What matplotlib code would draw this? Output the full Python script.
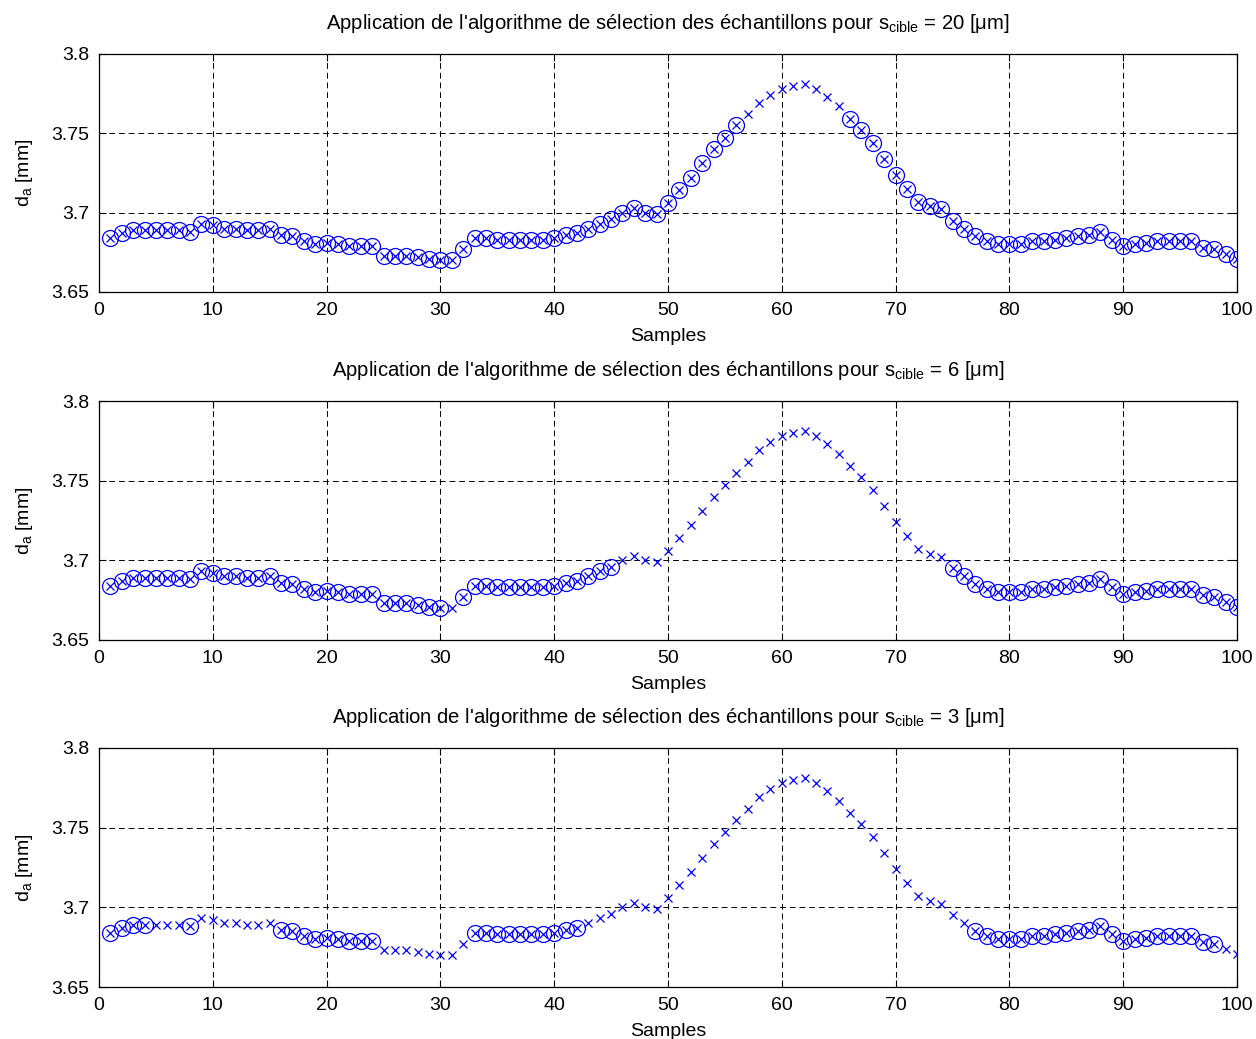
import matplotlib
matplotlib.use("Agg")
import matplotlib.pyplot as plt
import numpy as np

plt.rcParams['font.family'] = ['Liberation Sans', 'DejaVu Sans']
plt.rcParams['mathtext.fontset'] = 'custom'
plt.rcParams['mathtext.rm'] = 'Liberation Sans'
plt.rcParams['mathtext.it'] = 'Liberation Sans:italic'
plt.rcParams['mathtext.bf'] = 'Liberation Sans:bold'

samples = list(range(1, 101))
values = [
    3.684, 3.687, 3.689, 3.689, 3.689, 3.689, 3.689, 3.688, 3.693, 3.692,
    3.690, 3.690, 3.689, 3.689, 3.690, 3.686, 3.685, 3.682, 3.680, 3.681,
    3.680, 3.679, 3.679, 3.679, 3.673, 3.673, 3.673, 3.672, 3.671, 3.670,
    3.670, 3.677, 3.684, 3.684, 3.683, 3.683, 3.683, 3.683, 3.683, 3.684,
    3.686, 3.687, 3.690, 3.693, 3.696, 3.700, 3.703, 3.700, 3.699, 3.706,
    3.714, 3.722, 3.731, 3.740, 3.747, 3.755, 3.762, 3.769, 3.774, 3.778,
    3.780, 3.781, 3.778, 3.773, 3.767, 3.759, 3.752, 3.744, 3.734, 3.724,
    3.715, 3.707, 3.704, 3.702, 3.695, 3.690, 3.685, 3.682, 3.680, 3.680,
    3.680, 3.682, 3.682, 3.683, 3.684, 3.685, 3.686, 3.688, 3.683, 3.679,
    3.680, 3.681, 3.682, 3.682, 3.682, 3.682, 3.678, 3.677, 3.674, 3.671,
]

targets = [20, 6, 3]
# selected sample numbers (circled) for each target
selected_20 = [s for s in samples if not (57 <= s <= 65)]
selected_6 = list(range(1, 31)) + list(range(32, 46)) + list(range(75, 101))
selected_3 = [1, 2, 3, 4, 8] + list(range(16, 25)) + list(range(33, 43)) + list(range(77, 99))
selections = [selected_20, selected_6, selected_3]

xticks = list(range(0, 101, 10))
yticks = [3.65, 3.7, 3.75, 3.8]
yticklabels = ['3.65', '3.7', '3.75', '3.8']

W, H = 1256, 1039
fig = plt.figure(figsize=(W / 100, H / 100), dpi=100)

axes_px = [(54, 292), (401, 640), (748, 987)]
left_px, right_px = 99, 1237
blue = (0, 0, 1)
fs = 14

for (top, bot), tgt, sel in zip(axes_px, targets, selections):
    ax = fig.add_axes([left_px / W, 1 - bot / H, (right_px - left_px) / W, (bot - top) / H])
    ax.plot(samples, values, linestyle='none', marker='x', color=blue,
            markersize=6, markeredgewidth=0.9)
    sx = [s for s in sel]
    sy = [values[s - 1] for s in sel]
    ax.plot(sx, sy, linestyle='none', marker='o', markerfacecolor='none',
            markeredgecolor=blue, markersize=11.5, markeredgewidth=0.9)
    ax.set_xlim(0, 100)
    ax.set_ylim(3.65, 3.8)
    ax.set_xticks(xticks)
    ax.set_yticks(yticks)
    ax.set_yticklabels(yticklabels)
    ax.tick_params(direction='in', length=5, width=0.8, labelsize=fs,
                   top=True, right=True, pad=7)
    ax.grid(True, color='k', linestyle=(0, (6, 4)), linewidth=0.7)
    for sp in ax.spines.values():
        sp.set_linewidth(0.9)
    ax.set_xlabel('Samples', fontsize=fs, labelpad=7)
    ax.set_ylabel(r'd$_{\mathrm{a}}$ [mm]', fontsize=fs, labelpad=12)
    ax.set_title("Application de l'algorithme de sélection des échantillons pour s$_{\\mathrm{cible}}$ = %d [μm]" % tgt,
                 fontsize=14.6, pad=18)

fig.savefig('out.png', dpi=100)
